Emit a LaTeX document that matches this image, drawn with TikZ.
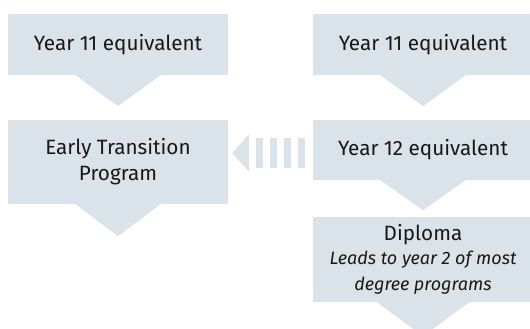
\documentclass[tikz,border=0pt]{standalone}
\usepackage{fontspec}
\setmainfont{Fira Sans}
\usetikzlibrary{calc}
\definecolor{boxfill}{RGB}{218,226,234}
\definecolor{txt}{RGB}{24,24,24}
\begin{document}
\begin{tikzpicture}[x=1pt,y=-1pt,
  stagebox/.style={fill=boxfill, inner sep=0pt, minimum width=220pt, align=center,
     text=txt, font=\fontsize{20.7}{26}\selectfont},
  chev/.style={fill=boxfill}]
\clip (0,0) rectangle (530,329);
\useasboundingbox (0,0) rectangle (530,329);
% left column
\node[stagebox, minimum height=61pt] (l11) at (118,44.5) {Year 11 equivalent};
\node[stagebox, minimum height=84pt] (etp) at (118,162) {Early Transition\\Program};
% right column
\node[stagebox, minimum height=61pt] (r11) at (423,44.5) {Year 11 equivalent};
\node[stagebox, minimum height=60pt] (y12) at (423,150) {Year 12 equivalent};
\node[stagebox, minimum height=85pt] (dip) at (423,259.5)
  {Diploma\\[-2pt]\fontsize{18}{21}\selectfont\itshape Leads to year 2 of most\\\fontsize{18}{21}\selectfont\itshape degree programs};
% chevrons below boxes
\foreach \n/\w/\h in {l11/42.5/31, etp/42.5/32, r11/42.5/31, y12/42.5/30, dip/46/34}{
  \fill[chev] ($(\n.south)+(-\w,0)$) -- ($(\n.south)+(\w,0)$) -- ($(\n.south)+(0,\h)$) -- cycle;
}
% transfer arrow from Year 12 to Early Transition
\coordinate (tip) at ($(etp.east)+(4,-9)$);
\fill[chev] (tip) -- ++(17,-19) -- ++(0,38) -- cycle;
\draw[boxfill, line width=30pt, dash pattern=on 7pt off 7pt]
  ($(y12.west)+(-8,3)$) -- ($(etp.east)+(28,-9)$);
\end{tikzpicture}
\end{document}
